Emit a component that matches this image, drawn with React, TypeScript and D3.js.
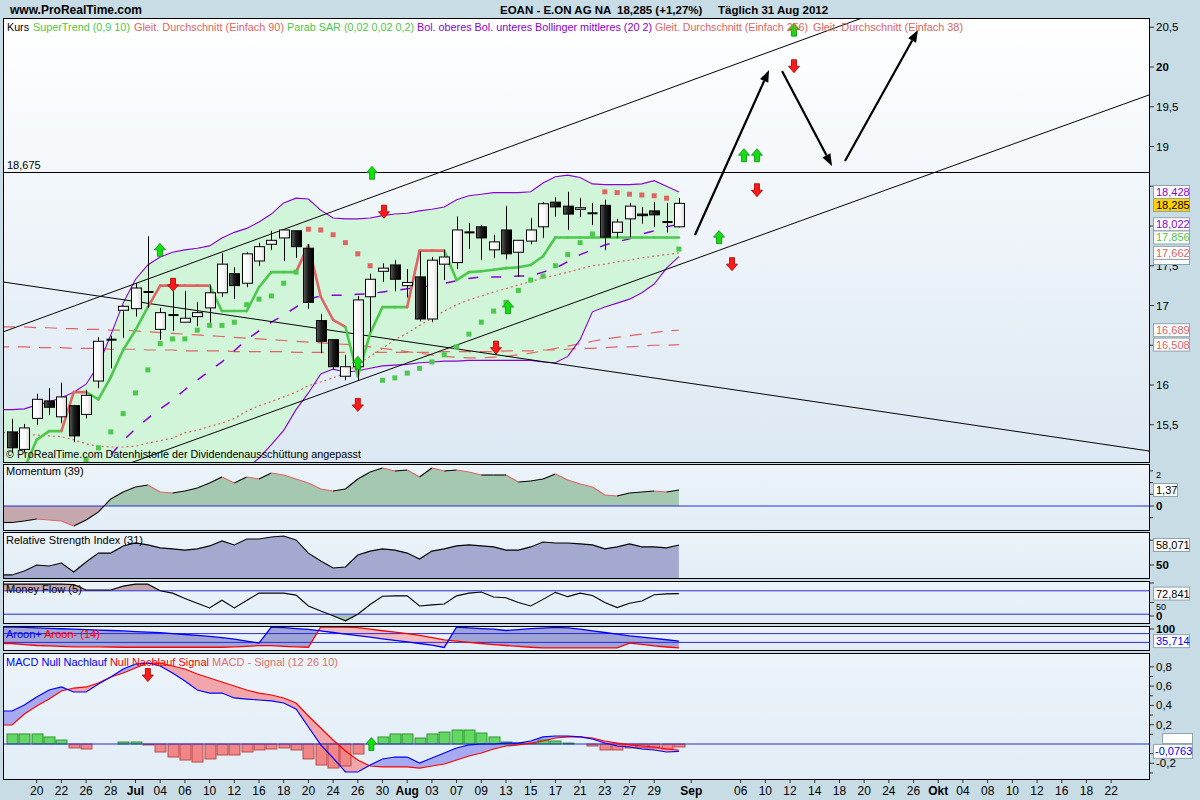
import * as d3 from 'd3';

const FONT = '"Liberation Sans", Arial, Helvetica, sans-serif';

// daily candles, 18 Jun 2012 .. 31 Aug 2012
const opens = [15.41, 15.19, 15.58, 15.80, 15.60, 15.74, 15.63, 16.05, 16.57, 16.94,
  16.96, 17.17, 16.70, 16.88, 16.79, 16.86, 16.97, 17.16, 17.40, 17.28,
  17.56, 17.77, 17.85, 17.94, 17.72, 16.81, 16.57, 16.11, 16.23, 17.11,
  17.43, 17.51, 17.25, 17.36, 16.83, 17.52, 17.54, 17.92, 17.99, 17.70,
  17.95, 17.67, 17.81, 17.99, 18.30, 18.25, 18.21, 18.16, 18.26, 17.92,
  18.09, 18.15, 18.19, 18.05, 17.99];
const highs = [15.57, 15.51, 15.89, 15.96, 16.03, 15.75, 15.94, 16.60, 16.62, 17.00,
  17.28, 17.87, 16.97, 17.18, 17.18, 17.04, 17.26, 17.66, 17.48, 17.67,
  17.79, 17.94, 17.95, 17.94, 17.77, 16.89, 16.57, 16.38, 17.12, 17.40,
  17.53, 17.57, 17.46, 17.68, 17.61, 17.70, 18.12, 18.04, 18.01, 17.89,
  18.25, 17.82, 18.10, 18.30, 18.36, 18.43, 18.35, 18.29, 18.33, 18.09,
  18.29, 18.24, 18.30, 18.29, 18.35];
const lows = [15.14, 15.15, 15.50, 15.62, 15.52, 15.28, 15.58, 15.96, 16.21, 16.59,
  16.86, 16.97, 16.57, 16.68, 16.79, 16.74, 16.78, 17.11, 17.08, 17.23,
  17.50, 17.70, 17.56, 17.60, 16.96, 16.40, 16.19, 16.06, 16.06, 16.67,
  17.30, 17.18, 17.10, 16.80, 16.79, 17.32, 17.46, 17.71, 17.57, 17.60,
  17.58, 17.36, 17.77, 17.85, 18.12, 17.95, 18.11, 18.01, 17.70, 17.85,
  17.86, 18.03, 17.99, 17.92, 17.98];
const closes = [15.21, 15.46, 15.82, 15.72, 15.85, 15.36, 15.87, 16.55, 16.57, 16.99,
  17.22, 17.17, 16.91, 16.88, 16.84, 16.91, 17.16, 17.52, 17.25, 17.65,
  17.74, 17.82, 17.95, 17.74, 17.04, 16.55, 16.23, 16.23, 17.07, 17.33,
  17.47, 17.33, 17.29, 16.83, 17.57, 17.61, 17.95, 17.92, 17.85, 17.80,
  17.65, 17.82, 17.95, 18.28, 18.24, 18.15, 18.23, 18.16, 17.86, 18.05,
  18.25, 18.13, 18.14, 18.05, 18.285];

// overlays
const bollUpper = [15.69, 15.70, 15.75, 15.79, 15.84, 15.91, 16.01, 16.25, 16.63, 17.03,
  17.33, 17.51, 17.61, 17.67, 17.70, 17.72, 17.75, 17.85, 17.92, 17.97,
  18.05, 18.15, 18.29, 18.35, 18.34, 18.20, 18.10, 18.09, 18.09, 18.10,
  18.13, 18.15, 18.16, 18.19, 18.21, 18.24, 18.33, 18.38, 18.40, 18.42,
  18.42, 18.42, 18.43, 18.54, 18.62, 18.64, 18.61, 18.53, 18.52, 18.52,
  18.52, 18.53, 18.57, 18.50, 18.428];
const bollMiddle = [14.70, 14.72, 14.75, 14.78, 14.82, 14.86, 14.92, 15.00, 15.12, 15.30,
  15.45, 15.58, 15.70, 15.81, 15.94, 16.06, 16.18, 16.29, 16.43, 16.57,
  16.68, 16.79, 16.88, 16.98, 17.08, 17.12, 17.13, 17.13, 17.14, 17.15,
  17.17, 17.19, 17.21, 17.23, 17.25, 17.28, 17.31, 17.34, 17.36, 17.36,
  17.36, 17.37, 17.37, 17.42, 17.47, 17.55, 17.64, 17.70, 17.76, 17.80,
  17.84, 17.90, 17.94, 17.99, 18.022];
const bollLower = [14.20, 14.20, 14.15, 14.10, 14.00, 13.95, 13.85, 13.80, 13.70, 13.60,
  13.60, 13.70, 13.80, 13.95, 14.10, 14.30, 14.50, 14.65, 14.80, 14.95,
  15.08, 15.25, 15.43, 15.69, 15.90, 16.14, 16.20, 16.16, 16.18, 16.21,
  16.24, 16.25, 16.26, 16.28, 16.29, 16.30, 16.30, 16.31, 16.31, 16.31,
  16.31, 16.31, 16.31, 16.29, 16.28, 16.36, 16.57, 16.92, 16.98, 17.03,
  17.08, 17.16, 17.27, 17.47, 17.616];
const superTrend = [14.85, 14.95, 15.31, 15.42, 15.42, 15.91, 15.91, 15.82, 16.10, 16.44,
  16.69, 16.98, 17.25, 17.25, 17.25, 17.25, 17.25, 16.93, 16.93, 16.93,
  17.23, 17.42, 17.42, 17.42, 17.76, 17.11, 16.82, 16.73, 16.11, 16.65,
  16.98, 16.98, 16.98, 17.69, 17.69, 17.69, 17.32, 17.42, 17.43, 17.45,
  17.47, 17.48, 17.51, 17.62, 17.856, 17.856, 17.856, 17.856, 17.856, 17.856,
  17.856, 17.856, 17.856, 17.856, 17.856];
const superTrendSide = 'GGGGGRRGGGGGRRRRRGGGGGGGRRRRGGGGGRRRGGGGGGGGGGGGGGGGGGG';
const sar = [14.70, 14.75, 14.80, 14.85, 14.90, 14.97, 15.06, 15.21, 15.41, 15.64,
  15.90, 16.19, 16.52, 16.58, 16.58, 16.69, 16.75, 16.75, 16.79, 17.01,
  17.08, 17.12, 17.28, 17.42, 17.96, 17.95, 17.89, 17.79, 17.65, 17.50,
  16.06, 16.09, 16.15, 16.21, 16.29, 16.38, 16.48, 16.64, 16.79, 16.93,
  17.04, 17.19, 17.32, 17.37, 17.50, 17.64, 17.79, 17.90, 18.43, 18.42,
  18.40, 18.39, 18.38, 18.35, 17.71];
const sarSide = 'GGGGGGGGGGGGGGGGGGGGGGGGRRRRRRGGGGGGGGGGGGGGGGGGRRRRRRG';
const sma38 = [15.40, 15.38, 15.37, 15.36, 15.35, 15.31, 15.26, 15.23, 15.22, 15.22,
  15.23, 15.27, 15.30, 15.33, 15.40, 15.43, 15.48, 15.52, 15.58, 15.67,
  15.74, 15.79, 15.85, 15.91, 15.99, 16.04, 16.09, 16.15, 16.26, 16.36,
  16.46, 16.57, 16.65, 16.75, 16.84, 16.93, 17.01, 17.07, 17.12, 17.17,
  17.21, 17.26, 17.30, 17.35, 17.38, 17.42, 17.46, 17.50, 17.52, 17.55,
  17.57, 17.60, 17.62, 17.64, 17.662];
const sma90 = [16.73, 16.73, 16.72, 16.72, 16.71, 16.71, 16.70, 16.70, 16.69, 16.69,
  16.68, 16.67, 16.66, 16.65, 16.64, 16.63, 16.62, 16.61, 16.60, 16.59,
  16.58, 16.57, 16.56, 16.55, 16.54, 16.53, 16.52, 16.51, 16.50, 16.48,
  16.46, 16.44, 16.42, 16.40, 16.38, 16.36, 16.35, 16.34, 16.34, 16.35,
  16.36, 16.38, 16.40, 16.43, 16.46, 16.49, 16.52, 16.55, 16.58, 16.60,
  16.62, 16.64, 16.66, 16.68, 16.689];
const sma256 = [16.48, 16.48, 16.47, 16.47, 16.47, 16.46, 16.46, 16.46, 16.45, 16.45,
  16.45, 16.44, 16.44, 16.44, 16.43, 16.43, 16.43, 16.43, 16.42, 16.42,
  16.42, 16.42, 16.42, 16.41, 16.41, 16.41, 16.41, 16.41, 16.41, 16.41,
  16.41, 16.41, 16.41, 16.41, 16.41, 16.42, 16.42, 16.42, 16.42, 16.42,
  16.43, 16.43, 16.43, 16.44, 16.44, 16.45, 16.46, 16.46, 16.47, 16.48,
  16.48, 16.49, 16.50, 16.50, 16.508];

// indicators
const momentum = [-1.41, -1.28, -1.11, -1.20, -1.28, -1.71, -1.20, -0.51, 0.60, 1.20,
  1.62, 1.79, 1.20, 1.11, 1.28, 1.54, 1.97, 2.48, 1.97, 2.48,
  2.31, 2.82, 2.65, 2.31, 1.97, 1.45, 1.28, 1.45, 2.31, 2.91,
  3.25, 2.99, 3.08, 2.48, 3.25, 2.99, 3.08, 2.91, 2.65, 2.65,
  2.65, 2.05, 2.14, 2.31, 2.74, 2.22, 1.88, 1.62, 0.94, 0.85,
  1.11, 1.20, 1.28, 1.20, 1.37];
const rsi = [46.0, 47.6, 50.0, 49.6, 50.8, 47.2, 51.2, 54.8, 54.8, 57.7,
  58.9, 58.1, 56.9, 56.5, 56.0, 56.5, 57.7, 59.7, 58.1, 60.5,
  60.5, 61.3, 61.7, 60.1, 54.8, 51.6, 48.8, 49.2, 54.0, 55.6,
  56.5, 56.0, 54.8, 52.4, 55.6, 56.5, 57.7, 58.1, 57.7, 57.3,
  56.0, 56.0, 57.3, 59.3, 58.9, 58.9, 58.5, 58.1, 56.5, 57.3,
  58.5, 57.3, 57.3, 56.9, 58.071];
const moneyFlow = [97, 97, 97, 97, 97, 96, 82, 82, 82, 92,
  97, 97, 80, 74, 60, 48, 36, 56, 36, 55,
  74, 74, 74, 69, 41, 28, 16, 3, 20, 45,
  66, 67, 67, 41, 44, 46, 67, 74, 77, 64,
  62, 50, 41, 58, 76, 65, 74, 68, 50, 37,
  48, 54, 70, 72, 72.841];
const aroonUp = [100, 98, 96, 94, 92, 90, 88, 86, 84, 82,
  79, 77, 74, 70, 66, 62, 57, 52, 45, 36,
  27, 100, 97, 93, 89, 82, 75, 68, 61, 54,
  46, 39, 32, 25, 18, 7, 100, 96, 93, 90,
  84, 88, 93, 95, 98, 96, 90, 82, 75, 68,
  60, 54, 48, 42, 35.714];
const aroonDown = [25, 20, 16, 14, 12, 10, 10, 10, 9, 8,
  8, 8, 8, 8, 8, 8, 8, 8, 10, 12,
  15, 15, 12, 10, 8, 100, 100, 100, 97, 90,
  83, 77, 70, 62, 52, 41, 36, 30, 25, 20,
  16, 12, 8, 5, 5, 5, 5, 5, 5, 5,
  27, 21, 14, 9, 5];
const macdLine = [0.342, 0.404, 0.487, 0.560, 0.591, 0.539, 0.539, 0.622, 0.694, 0.777,
  0.829, 0.839, 0.808, 0.736, 0.653, 0.560, 0.528, 0.528, 0.477, 0.466,
  0.456, 0.446, 0.425, 0.363, 0.176, -0.010, -0.145, -0.290, -0.290, -0.218,
  -0.155, -0.135, -0.135, -0.197, -0.145, -0.093, -0.041, -0.010, 0.000, 0.000,
  0.010, 0.010, 0.031, 0.073, 0.083, 0.083, 0.073, 0.052, 0.010, -0.021,
  -0.031, -0.052, -0.062, -0.083, -0.0763];
const macdSignal = [0.197, 0.311, 0.394, 0.466, 0.549, 0.580, 0.591, 0.632, 0.694, 0.736,
  0.788, 0.839, 0.839, 0.808, 0.777, 0.725, 0.684, 0.642, 0.601, 0.560,
  0.528, 0.508, 0.477, 0.425, 0.290, 0.166, 0.041, -0.073, -0.166, -0.228,
  -0.238, -0.238, -0.238, -0.249, -0.228, -0.207, -0.166, -0.124, -0.093, -0.052,
  -0.021, -0.010, 0.010, 0.031, 0.062, 0.073, 0.073, 0.062, 0.031, 0.010,
  -0.010, -0.021, -0.031, -0.052, -0.062];
const macdHist = [0.104, 0.104, 0.104, 0.073, 0.041, -0.041, -0.052, 0, 0, 0.021,
  0.021, -0.010, -0.083, -0.135, -0.166, -0.187, -0.155, -0.114, -0.114, -0.083,
  -0.062, -0.052, -0.041, -0.062, -0.155, -0.218, -0.249, -0.228, -0.104, 0,
  0.073, 0.104, 0.104, 0.062, 0.104, 0.124, 0.145, 0.145, 0.114, 0.073,
  0.021, 0.010, 0.005, 0.041, 0.031, 0.010, 0, -0.021, -0.062, -0.062,
  -0.041, -0.041, -0.041, -0.052, -0.031];

// x axis: trading-day index of each label
const tickDays = [2, 4, 6, 8, 10, 12, 14, 16, 18, 20, 22, 24, 26, 28, 30, 32, 34, 36, 38, 40,
  42, 44, 46, 48, 50, 52, 55, 59, 61, 63, 65, 67, 69, 71, 73, 75, 77, 79, 81, 83, 85, 87, 89];
const tickLabels = ['20', '22', '26', '28', 'Jul', '04', '06', '10', '12', '16', '18', '20', '24', '26',
  '30', 'Aug', '03', '07', '09', '13', '15', '17', '21', '23', '27', '29', 'Sep', '06', '10', '12',
  '14', '18', '20', '24', '26', 'Okt', '04', '08', '10', '12', '16', '18', '22'];
const monthLabels = ['Jul', 'Aug', 'Sep', 'Okt'];
const priceTicks = [15.5, 16, 16.5, 17, 17.5, 18, 18.5, 19, 19.5, 20, 20.5];
const macdTicks = [-0.2, 0.2, 0.4, 0.6, 0.8];

// legend of the price panel: text, colour, start x, width
const legendTexts = ['Kurs', 'SuperTrend (0,9 10)', 'Gleit. Durchschnitt (Einfach 90)', 'Parab SAR (0,02 0,02 0,2)',
  'Bol. oberes Bol. unteres Bollinger mittleres (20 2)', 'Gleit. Durchschnitt (Einfach 256)', 'Gleit. Durchschnitt (Einfach 38)'];
const legendColors = ['#000', '#4cc84c', '#e06464', '#4cc84c', '#8a00d4', '#e06464', '#e06464'];
const legendX = [7, 33, 134, 287, 417, 655, 813];
const legendW = [22, 97, 150, 127, 235, 153, 150];

// signal arrows (index, price, u/d)
const signalIdx = [11.98, 13.04, 29.15, 30.12, 28.0, 28.0, 40.16, 39.19, 57.25, 58.3, 59.27, 60.32, 60.32, 63.32, 63.32];
const signalPrice = [17.70, 17.26, 18.67, 18.18, 16.28, 15.75, 16.98, 16.47, 17.86, 17.52, 18.89, 18.89, 18.45, 20.47, 20.01];
const signalDir = 'udududududuudud';
const macdSignalIdx = [11.0, 29.1];
const macdSignalVal = [0.715, 0.0];
const macdSignalDir = 'du';

// hand-drawn lines: [index, price] -> [index, price]
const trendFrom = [[-0.73, 16.667], [28.18, 16.063], [-0.73, 17.296]];
const trendTo = [[68.83, 20.616], [92.06, 19.648], [92.06, 15.17]];
const resistance = 18.675;
const arrowFrom = [[55.3, 17.887], [62.35, 19.95], [67.45, 18.818]];
const arrowTo = [[61.3, 19.962], [66.4, 18.755], [73.36, 20.465]];

const W = 1200;
const H = 800;
const LEFT = 3;
const RIGHT = 1149;

const P = {
  main: { top: 18, bottom: 462 },
  mom: { top: 464, bottom: 530 },
  rsi: { top: 532, bottom: 578 },
  mf: { top: 581, bottom: 623 },
  aroon: { top: 626, bottom: 650 },
  macd: { top: 653, bottom: 779 },
};

const x = d3.scaleLinear().domain([0, 54]).range([12, 678.9]);
const yPrice = d3.scaleLinear().domain([15.5, 20]).range([424.75, 67]);
const yMom = d3.scaleLinear().domain([0, 2]).range([506, 482.6]);
const yRsi = d3.scaleLinear().domain([50, 60]).range([565, 540.2]);
const yMf = d3.scaleLinear().domain([0, 100]).range([622, 583]);
const yAr = d3.scaleLinear().domain([0, 100]).range([649, 627]);
const yMacd = d3.scaleLinear().domain([0, 0.8]).range([744, 666.8]);

const GREEN = '#4cc84c';
const RED = '#e06464';
const PURPLE = '#8a00d4';
const BLUE_REF = '#2b2bdc';

type Pt = [number, number];

const withEdge = (vals: number[], y: (v: number) => number): Pt[] =>
  [[LEFT, y(vals[0])] as Pt, ...vals.map((v, i) => [x(i), y(v)] as Pt)];

const linePath = (vals: number[], y: (v: number) => number) => d3.line()(withEdge(vals, y)) || '';

const bandPath = (a: number[], b: number[], y: (v: number) => number) => {
  const pa = withEdge(a, y);
  const pb = withEdge(b, y);
  return d3.area<number>().x(i => pa[i][0]).y0(i => pb[i][1]).y1(i => pa[i][1])(pa.map((_, i) => i)) || '';
};

const toEdgePath = (vals: number[], y: (v: number) => number, edge: number) =>
  d3.area<Pt>().x(p => p[0]).y0(edge).y1(p => p[1])(withEdge(vals, y)) || '';

const fmt = (v: number) => String(v).replace('.', ',');

const arrowShape = (cx: number, cy: number, up: boolean) => {
  const s = up ? 1 : -1;
  return `M${cx},${cy - 6.5 * s}L${cx + 5.5},${cy}L${cx + 2.5},${cy}L${cx + 2.5},${cy + 6.5 * s}` +
    `L${cx - 2.5},${cy + 6.5 * s}L${cx - 2.5},${cy}L${cx - 5.5},${cy}Z`;
};

const extendLine = (a: number[], b: number[]) => {
  const x1 = x(a[0]), y1 = yPrice(a[1]), x2 = x(b[0]), y2 = yPrice(b[1]);
  const m = (y2 - y1) / (x2 - x1);
  return { x1: LEFT, y1: y1 + m * (LEFT - x1), x2: RIGHT, y2: y1 + m * (RIGHT - x1) };
};

const drawnArrow = (a: number[], b: number[]) => {
  const x1 = x(a[0]), y1 = yPrice(a[1]), x2 = x(b[0]), y2 = yPrice(b[1]);
  const ang = Math.atan2(y2 - y1, x2 - x1);
  const len = 12, hw = 4.5;
  const bx = x2 - len * Math.cos(ang), by = y2 - len * Math.sin(ang);
  const nx = -Math.sin(ang), ny = Math.cos(ang);
  return {
    line: `M${x1},${y1}L${bx},${by}`,
    head: `M${x2},${y2}L${bx + nx * hw},${by + ny * hw}L${bx - nx * hw},${by - ny * hw}Z`,
  };
};

// value boxes stacked so they do not overlap
const stackBoxes = (boxes: { y: number; text: string; color: string; bg?: string }[]) => {
  const sorted = [...boxes].sort((a, b) => a.y - b.y);
  let last = -Infinity;
  return sorted.map(b => {
    const y = Math.max(b.y, last + 13);
    last = y;
    return { ...b, y };
  });
};

const PanelFrame = ({ p, fill }: { p: { top: number; bottom: number }; fill: string }) => (
  <rect x={LEFT + 0.5} y={p.top + 0.5} width={RIGHT - LEFT} height={p.bottom - p.top} fill={fill} stroke="#000" />
);

const Label = ({ y, text, bold, hideText }: { y: number; text: string; bold?: boolean; hideText?: boolean }) => (
  <g>
    <line x1={RIGHT + 1} x2={RIGHT + 5} y1={y} y2={y} stroke="#333" />
    {!hideText && (
      <text x={1156} y={y} dy="0.35em" fontSize={11.5} fontWeight={bold ? 'bold' : 'normal'} fill="#000">{text}</text>
    )}
  </g>
);

const ValueBox = ({ y, text, color, bg }: { y: number; text: string; color: string; bg?: string }) => (
  <g>
    <rect x={1153.5} y={y - 6.5} width={36} height={13} fill={bg || '#fff'} stroke="#8fa3ad" />
    <text x={1156} y={y} dy="0.36em" fontSize={11} fill={color}>{text}</text>
  </g>
);

export default function App() {
  const n = closes.length;
  const idx = d3.range(n);
  const mainBoxes = stackBoxes([
    { y: yPrice(bollUpper[n - 1]), text: '18,428', color: PURPLE },
    { y: yPrice(closes[n - 1]), text: '18,285', color: '#000', bg: '#ffd200' },
    { y: yPrice(bollMiddle[n - 1]), text: '18,022', color: PURPLE },
    { y: yPrice(superTrend[n - 1]), text: '17,856', color: GREEN },
    { y: yPrice(sma38[n - 1]), text: '17,662', color: RED },
    { y: yPrice(sma90[n - 1]), text: '16,689', color: RED },
    { y: yPrice(sma256[n - 1]), text: '16,508', color: RED },
  ]);
  // tick texts that sit under a value box are hidden, as in the original
  const underBox = (y: number) => mainBoxes.some(b => Math.abs(b.y - y) < 10);
  const momPts = withEdge(momentum, yMom);
  const level = (v: number) => momentum.map(() => v);

  return (
    <svg width={W} height={H} style={{ position: 'absolute', left: 0, top: 0, fontFamily: FONT }}>
      <defs>
        <linearGradient id="mainBg" x1="0" x2="0" y1="0" y2="1">
          <stop offset="0" stopColor="#ffffff" />
          <stop offset="1" stopColor="#dce8f3" />
        </linearGradient>
        <linearGradient id="indBg" x1="0" x2="0" y1="0" y2="1">
          <stop offset="0" stopColor="#edf4fa" />
          <stop offset="1" stopColor="#e1edf6" />
        </linearGradient>
        <linearGradient id="blackBody" x1="0" x2="1" y1="0" y2="0">
          <stop offset="0" stopColor="#5c5c5c" />
          <stop offset="0.45" stopColor="#1c1c1c" />
          <stop offset="1" stopColor="#000" />
        </linearGradient>
        <linearGradient id="whiteBody" x1="0" x2="1" y1="0" y2="0">
          <stop offset="0" stopColor="#ffffff" />
          <stop offset="0.6" stopColor="#f8f8f8" />
          <stop offset="1" stopColor="#d6d6d6" />
        </linearGradient>
        {Object.entries(P).map(([k, p]) => (
          <clipPath id={`clip-${k}`} key={k}>
            <rect x={LEFT + 1} y={p.top + 1} width={RIGHT - LEFT - 1} height={p.bottom - p.top - 1} />
          </clipPath>
        ))}
        <clipPath id="momPos"><rect x={LEFT} y={P.mom.top} width={RIGHT - LEFT} height={yMom(0) - P.mom.top} /></clipPath>
        <clipPath id="momNeg"><rect x={LEFT} y={yMom(0)} width={RIGHT - LEFT} height={P.mom.bottom - yMom(0)} /></clipPath>
        <clipPath id="mfHigh"><rect x={LEFT} y={P.mf.top} width={RIGHT - LEFT} height={yMf(80) - P.mf.top} /></clipPath>
        <clipPath id="mfLow"><rect x={LEFT} y={yMf(20)} width={RIGHT - LEFT} height={P.mf.bottom - yMf(20)} /></clipPath>
        <clipPath id="arAbove"><path d={toEdgePath(aroonDown, yAr, P.aroon.top - 5)} /></clipPath>
        <clipPath id="arBelow"><path d={toEdgePath(aroonDown, yAr, P.aroon.bottom + 5)} /></clipPath>
        <clipPath id="macdAbove"><path d={toEdgePath(macdSignal, yMacd, P.macd.top - 5)} /></clipPath>
        <clipPath id="macdBelow"><path d={toEdgePath(macdSignal, yMacd, P.macd.bottom + 5)} /></clipPath>
      </defs>

      <rect x={0} y={0} width={W} height={H} fill="#c8dce6" />

      {/* header */}
      <text x={10} y={14} fontSize={12} fontWeight="bold">www.ProRealTime.com</text>
      <text y={14} fontSize={11.5} fontWeight="bold">
        <tspan x={500}>EOAN - E.ON AG NA</tspan>
        <tspan x={617}>18,285 (+1,27%)</tspan>
        <tspan x={718}>Täglich  31 Aug 2012</tspan>
      </text>

      {/* main price panel */}
      <PanelFrame p={P.main} fill="url(#mainBg)" />
      <g clipPath="url(#clip-main)">
        <path d={bandPath(bollUpper, bollLower, yPrice)} fill="#d1f5d8" />
        <path d={linePath(sma90, yPrice)} fill="none" stroke={RED} strokeWidth={1.2} strokeDasharray="12 9" />
        <path d={linePath(sma256, yPrice)} fill="none" stroke={RED} strokeWidth={1.2} strokeDasharray="12 9" strokeDashoffset={6} />
        <path d={linePath(sma38, yPrice)} fill="none" stroke={RED} strokeWidth={1.2} strokeDasharray="2 3" />
        <path d={linePath(bollMiddle, yPrice)} fill="none" stroke={PURPLE} strokeWidth={1.5} strokeDasharray="10 13" />
        <path d={linePath(bollUpper, yPrice)} fill="none" stroke={PURPLE} strokeWidth={1.1} />
        <path d={linePath(bollLower, yPrice)} fill="none" stroke={PURPLE} strokeWidth={1.1} />

        {trendFrom.map((a, k) => {
          const l = extendLine(a, trendTo[k]);
          return <line key={k} {...l} stroke="#000" strokeWidth={1} />;
        })}
        <line x1={LEFT} x2={RIGHT} y1={Math.round(yPrice(resistance)) + 0.5} y2={Math.round(yPrice(resistance)) + 0.5} stroke="#000" />

        {idx.slice(1).map(i => (
          <line key={i} x1={x(i - 1)} y1={yPrice(superTrend[i - 1])} x2={x(i)} y2={yPrice(superTrend[i])}
            stroke={superTrendSide[i] === 'G' ? GREEN : RED} strokeWidth={2.6} strokeLinecap="round" />
        ))}
        {idx.map(i => (
          <rect key={i} x={x(i) - 2.5} y={yPrice(sar[i]) - 2.5} width={5} height={5}
            fill={sarSide[i] === 'G' ? GREEN : RED} />
        ))}

        {idx.map(i => {
          const cx = Math.round(x(i)) + 0.5;
          const yo = yPrice(opens[i]);
          const yc = yPrice(closes[i]);
          const top = Math.min(yo, yc);
          const h = Math.abs(yo - yc);
          const up = closes[i] >= opens[i];
          return (
            <g key={i}>
              <line x1={cx} x2={cx} y1={yPrice(highs[i])} y2={yPrice(lows[i])} stroke="#000" />
              {h < 1.5 ? (
                <rect x={cx - 5} y={top - 1} width={10} height={2} fill="#000" />
              ) : (
                <rect x={cx - 5} y={top} width={10} height={h} fill={up ? 'url(#whiteBody)' : 'url(#blackBody)'} stroke="#000" />
              )}
            </g>
          );
        })}

        {signalIdx.map((s, k) => (
          <path key={k} d={arrowShape(x(s), yPrice(signalPrice[k]), signalDir[k] === 'u')}
            fill={signalDir[k] === 'u' ? '#10e010' : '#ff1a1a'}
            stroke={signalDir[k] === 'u' ? '#108a10' : '#a00000'} strokeWidth={0.8} />
        ))}

        {arrowFrom.map((a, k) => {
          const d = drawnArrow(a, arrowTo[k]);
          return (
            <g key={k}>
              <path d={d.line} stroke="#000" strokeWidth={2.2} fill="none" />
              <path d={d.head} fill="#000" />
            </g>
          );
        })}

        <text x={7} y={169} fontSize={11}>18,675</text>
        {legendTexts.map((t, k) => (
          <text key={k} x={legendX[k]} y={31} fontSize={11} fill={legendColors[k]}
            textLength={legendW[k]} lengthAdjust="spacingAndGlyphs">{t}</text>
        ))}
        <text x={6} y={458} fontSize={11.5} textLength={355} lengthAdjust="spacingAndGlyphs">
          © ProRealTime.com  Datenhistorie der Dividendenausschüttung angepasst
        </text>
      </g>
      {priceTicks.map(v => (
        <Label key={v} y={yPrice(v)} text={fmt(v)} bold={v === 20} hideText={underBox(yPrice(v))} />
      ))}
      <rect x={1153.5} y={259.5} width={36} height={5} fill="#fff" stroke="#8fa3ad" />
      {mainBoxes.map(b => <ValueBox key={b.text} {...b} />)}

      {/* momentum */}
      <PanelFrame p={P.mom} fill="url(#indBg)" />
      <g clipPath="url(#clip-mom)">
        <path d={toEdgePath(momentum, yMom, yMom(0))} fill="#a5c9b0" clipPath="url(#momPos)" />
        <path d={toEdgePath(momentum, yMom, yMom(0))} fill="#c5a7ae" clipPath="url(#momNeg)" />
        <line x1={LEFT} x2={RIGHT} y1={yMom(0)} y2={yMom(0)} stroke={BLUE_REF} />
        {momPts.slice(1).map((p, k) => (
          <line key={k} x1={momPts[k][0]} y1={momPts[k][1]} x2={p[0]} y2={p[1]}
            stroke={p[1] > momPts[k][1] ? RED : '#000'} strokeWidth={1.1} />
        ))}
        <text x={6} y={475} fontSize={11}>Momentum (39)</text>
      </g>
      {[-1, 1, 2, 3].map(v => <line key={v} x1={RIGHT + 1} x2={RIGHT + 4} y1={yMom(v)} y2={yMom(v)} stroke="#333" />)}
      <text x={1156} y={yMom(2) - 5} fontSize={9} fill="#000">2</text>
      <Label y={yMom(0)} text="0" bold />
      <rect x={1153.5} y={yMom(1.37) - 6.5} width={24} height={13} fill="#fff" stroke="#8fa3ad" />
      <text x={1156} y={yMom(1.37)} dy="0.36em" fontSize={11}>1,37</text>

      {/* RSI */}
      <PanelFrame p={P.rsi} fill="url(#indBg)" />
      <g clipPath="url(#clip-rsi)">
        <path d={toEdgePath(rsi, yRsi, P.rsi.bottom + 2)} fill="#a3a9cf" />
        <path d={linePath(rsi, yRsi)} fill="none" stroke="#000" strokeWidth={1.1} />
        <text x={6} y={544} fontSize={11}>Relative Strength Index (31)</text>
      </g>
      <Label y={yRsi(60)} text="60" hideText />
      <Label y={yRsi(50)} text="50" bold />
      <ValueBox y={yRsi(58.071)} text="58,071" color="#000" />

      {/* Money flow */}
      <PanelFrame p={P.mf} fill="url(#indBg)" />
      <g clipPath="url(#clip-mf)">
        <path d={bandPath(moneyFlow, level(80), yMf)} fill="#c5a7ae" clipPath="url(#mfHigh)" />
        <path d={bandPath(moneyFlow, level(20), yMf)} fill="#a5c9b0" clipPath="url(#mfLow)" />
        <line x1={LEFT} x2={RIGHT} y1={yMf(80)} y2={yMf(80)} stroke={BLUE_REF} />
        <line x1={LEFT} x2={RIGHT} y1={yMf(20)} y2={yMf(20)} stroke={BLUE_REF} />
        <path d={linePath(moneyFlow, yMf)} fill="none" stroke="#000" strokeWidth={1.1} />
        <text x={6} y={593} fontSize={11}>Money Flow (5)</text>
      </g>
      <Label y={yMf(100)} text="100" hideText />
      <Label y={yMf(50)} text="50" hideText />
      <text x={1156} y={yMf(50) + 7} fontSize={9} fill="#000">50</text>
      <Label y={yMf(0) - 6} text="0" bold />
      <ValueBox y={yMf(72.841)} text="72,841" color="#000" />

      {/* Aroon */}
      <PanelFrame p={P.aroon} fill="url(#indBg)" />
      <g clipPath="url(#clip-aroon)">
        <path d={bandPath(aroonUp, aroonDown, yAr)} fill="#a0a5d6" clipPath="url(#arAbove)" />
        <path d={bandPath(aroonUp, aroonDown, yAr)} fill="#efbcc0" clipPath="url(#arBelow)" />
        <line x1={LEFT} x2={RIGHT} y1={yAr(70)} y2={yAr(70)} stroke={BLUE_REF} />
        <line x1={LEFT} x2={RIGHT} y1={yAr(30)} y2={yAr(30)} stroke={BLUE_REF} />
        <path d={linePath(aroonDown, yAr)} fill="none" stroke="#ff0000" strokeWidth={1.3} />
        <path d={linePath(aroonUp, yAr)} fill="none" stroke="#0000ff" strokeWidth={1.3} />
        <text x={6} y={638} fontSize={11}>
          <tspan fill="#0000ff">Aroon+ </tspan>
          <tspan fill="#ff0000">Aroon- (14)</tspan>
        </text>
      </g>
      <Label y={yAr(100) + 2} text="100" bold />
      <ValueBox y={yAr(35.714)} text="35,714" color="#0000ff" />

      {/* MACD */}
      <PanelFrame p={P.macd} fill="url(#indBg)" />
      <g clipPath="url(#clip-macd)">
        <path d={bandPath(macdLine, macdSignal, yMacd)} fill="#a6aaf2" clipPath="url(#macdAbove)" />
        <path d={bandPath(macdLine, macdSignal, yMacd)} fill="#f0a6aa" clipPath="url(#macdBelow)" />
        {idx.map(i => {
          const v = macdHist[i];
          if (Math.abs(v) < 0.001) return null;
          const y0 = yMacd(0);
          const y1 = yMacd(v);
          return (
            <rect key={i} x={Math.round(x(i)) - 5} y={Math.min(y0, y1)} width={11} height={Math.abs(y1 - y0)}
              fill={v > 0 ? '#62d862' : '#f28686'} stroke={v > 0 ? '#2a8c2a' : '#b04444'} strokeWidth={0.9} />
          );
        })}
        <line x1={LEFT} x2={RIGHT} y1={yMacd(0)} y2={yMacd(0)} stroke={BLUE_REF} />
        <path d={linePath(macdSignal, yMacd)} fill="none" stroke="#ff0000" strokeWidth={1.2} />
        <path d={linePath(macdLine, yMacd)} fill="none" stroke="#0000ff" strokeWidth={1.2} />
        {macdSignalIdx.map((s, k) => (
          <path key={k} d={arrowShape(x(s), yMacd(macdSignalVal[k]), macdSignalDir[k] === 'u')}
            fill={macdSignalDir[k] === 'u' ? '#10e010' : '#ff1a1a'}
            stroke={macdSignalDir[k] === 'u' ? '#108a10' : '#a00000'} strokeWidth={0.8} />
        ))}
        <text x={6} y={666} fontSize={11}>
          <tspan fill="#0000ff">MACD Null Nachlauf </tspan>
          <tspan fill="#ff0000">Null Nachlauf Signal </tspan>
          <tspan fill="#e07070">MACD - Signal (12 26 10)</tspan>
        </text>
      </g>
      {macdTicks.map(v => <Label key={v} y={yMacd(v)} text={fmt(v)} />)}
      {[-0.3, -0.1, 0.1, 0.3, 0.5, 0.7].map(v => (
        <line key={v} x1={RIGHT + 1} x2={RIGHT + 4} y1={yMacd(v)} y2={yMacd(v)} stroke="#333" />
      ))}
      <rect x={1162.5} y={733.5} width={30} height={10} fill="#fff" stroke="#8fa3ad" />
      <rect x={1153.5} y={yMacd(-0.0763) - 7} width={39} height={14} fill="#fff" stroke="#8fa3ad" />
      <text x={1155} y={yMacd(-0.0763)} dy="0.36em" fontSize={11} fill="#0000ff">-0,0763</text>

      {/* date axis */}
      {tickDays.map((d, k) => (
        <g key={k}>
          <line x1={x(d)} x2={x(d)} y1={P.macd.bottom + 1} y2={P.macd.bottom + 4} stroke="#333" />
          <text x={x(d)} y={791} dy="0.35em" textAnchor="middle" fontSize={12}
            fontWeight={monthLabels.includes(tickLabels[k]) ? 'bold' : 'normal'}>{tickLabels[k]}</text>
        </g>
      ))}
    </svg>
  );
}
